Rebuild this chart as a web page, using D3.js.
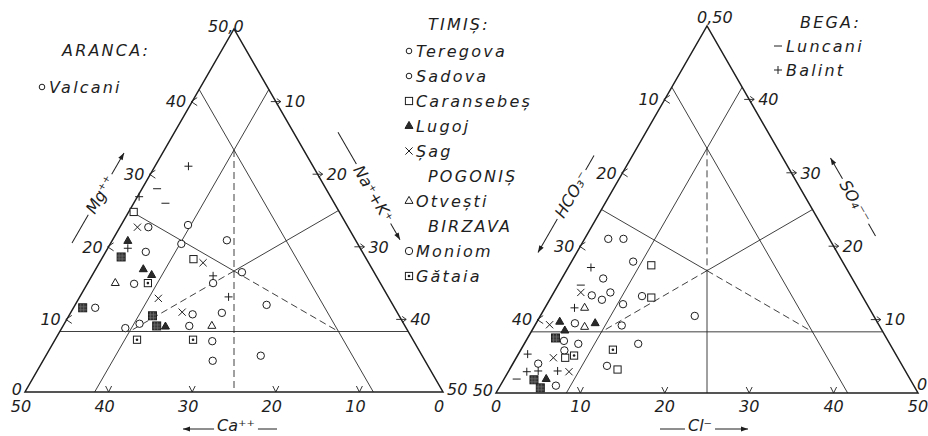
<!DOCTYPE html>
<html>
<head>
<meta charset="utf-8">
<script src="https://cdn.jsdelivr.net/npm/d3@7"></script>
<style>
  html, body { margin: 0; padding: 0; background: #fff; }
  svg { display: block; }
  text { font-family: "DejaVu Sans", sans-serif; font-style: oblique; fill: #1e1e1e; }
</style>
</head>
<body>
<svg id="chart" width="928" height="436"></svg>
<script>
// ---------------------------------------------------------------
// Cation triangle, meq-% with Ca + Mg + (Na+K) = 50.  Points: [Ca, Mg]
// ---------------------------------------------------------------
const catCircles   = [[23.9,22.7],[19.0,23.0],[21.1,20.4],[15.4,20.9],[25.9,19.3],[29.5,14.9],
                      [20.0,15.0],[15.8,16.5],[15.1,12.0],[35.8,11.6],[24.6,10.7],[21.0,10.9],
                      [33.6,8.8],[31.6,9.4],[25.8,9.1],[24.1,7.0],[25.4,4.3],[19.3,5.0]];
const catCaransebes = [[24.6,24.8],[20.7,18.3]];
const catGataia     = [[27.8,15.0],[33.0,7.2],[26.3,7.2]];
const catDark       = [[29.2,18.6],[37.3,11.6],[29.5,10.5],[29.7,9.1]];
const catLugoj      = [[27.3,20.8],[27.4,16.9],[26.8,16.1],[28.7,9.0]];
const catSag        = [[25.2,22.7],[19.8,17.8],[27.6,12.9],[25.7,11.0]];
const catOtvesti    = [[31.7,15.0],[23.1,9.1]];
const catBalint     = [[14.9,31.1],[22.9,26.9],[27.8,19.8],[19.5,16.0],[19.1,13.1]];
const catLuncani    = [[20.2,28.0],[20.2,26.0]];

// ---------------------------------------------------------------
// Anion triangle, meq-% with HCO3 + SO4 + Cl = 50.  Points: [Cl, SO4]
// ---------------------------------------------------------------
const anCircles    = [[2.8,21.0],[4.6,21.0],[7.3,17.9],[4.9,15.6],[4.7,13.3],[6.2,12.7],
                      [6.7,13.7],[9.0,12.1],[10.7,13.2],[18.3,10.5],[4.6,9.5],[10.3,9.2],
                      [4.5,7.1],[6.4,6.7],[13.5,6.7],[5.2,5.8],[3.0,4.0],[11.3,3.7],[6.6,1.0]];
const anCaransebes = [[9.7,17.4],[11.9,13.0],[5.8,4.8],[12.8,3.2]];
const anGataia     = [[10.9,5.9],[6.7,5.1]];
const anDark       = [[3.3,7.5],[3.6,1.8],[4.9,0.7]];
const anLugoj      = [[2.7,9.7],[3.9,8.5],[7.0,9.5],[5.0,1.9]];
const anSag        = [[3.2,13.7],[1.7,9.3],[4.4,4.8],[7.2,2.9]];
const anOtvesti    = [[4.7,11.6],[6.0,9.0]];
const anBalint     = [[2.7,17.1],[3.5,11.6],[1.1,5.3],[2.2,2.9],[3.5,3.0],[5.8,3.0]];
const anLuncani    = [[2.7,14.7],[1.5,1.9]];

// tick labels
const caTicks   = [50, 40, 30, 20, 10, 0];
const mgTicks   = [0, 10, 20, 30, 40];
const naTicks   = [10, 20, 30, 40, 50];
const clTicks   = [0, 10, 20, 30, 40, 50];
const hco3Ticks = [10, 20, 30, 40, 50];
const so4Ticks  = [0, 10, 20, 30, 40];
const gridTicks = [10, 20, 30, 40];

// legend texts
const arancaTitle = "ARANCA:";
const arancaItems = [["circleSmall", "Valcani"]];
const timisTitle  = "TIMIȘ:";
const middleItems = [
  ["circleSmall", "Teregova"], ["circleSmall", "Sadova"], ["square", "Caransebeș"],
  ["triFill", "Lugoj"], ["times", "Șag"], [null, "POGONIȘ"], ["tri", "Otvești"],
  [null, "BIRZAVA"], ["circle", "Moniom"], ["dotSquare", "Gătaia"]
];
const begaTitle = "BEGA:";
const begaItems = [["minus", "Luncani"], ["plus", "Balint"]];

// ---------------------------------------------------------------
const INK = "#1e1e1e";
const svg = d3.select("#chart");
const K = 50 / 6;          // classification boundary (1/6 of the half-sum)
const C3 = 50 / 3;         // centroid share

function marker(g, type, x, y) {
  const st = sel => sel.attr("stroke", INK).attr("stroke-width", 1);
  switch (type) {
    case "circle":
      st(g.append("circle").attr("cx", x).attr("cy", y).attr("r", 3.7).attr("fill", "#fff")); break;
    case "circleSmall":
      st(g.append("circle").attr("cx", x).attr("cy", y).attr("r", 2.8).attr("fill", "#fff")); break;
    case "square":
      st(g.append("rect").attr("x", x - 3.6).attr("y", y - 3.6).attr("width", 7.2).attr("height", 7.2).attr("fill", "#fff")); break;
    case "dotSquare":
      st(g.append("rect").attr("x", x - 3.6).attr("y", y - 3.6).attr("width", 7.2).attr("height", 7.2).attr("fill", "#fff"));
      g.append("circle").attr("cx", x).attr("cy", y).attr("r", 1.3).attr("fill", INK); break;
    case "darkSquare":
      st(g.append("rect").attr("x", x - 4).attr("y", y - 4).attr("width", 8).attr("height", 8).attr("fill", "#3a3a3a"));
      g.append("path").attr("d", `M${x-2},${y-4}V${y+4}M${x+1},${y-4}V${y+4}M${x-4},${y-1}H${x+4}M${x-4},${y+2}H${x+4}`)
        .attr("stroke", "#777").attr("stroke-width", 0.6); break;
    case "triFill":
      st(g.append("path").attr("d", `M${x},${y-4.6}L${x+4},${y+2.4}L${x-4},${y+2.4}Z`).attr("fill", "#2a2a2a")); break;
    case "tri":
      st(g.append("path").attr("d", `M${x},${y-4.6}L${x+4},${y+2.4}L${x-4},${y+2.4}Z`).attr("fill", "#fff")); break;
    case "times":
      st(g.append("path").attr("d", `M${x-3.6},${y-3.6}L${x+3.6},${y+3.6}M${x+3.6},${y-3.6}L${x-3.6},${y+3.6}`).attr("fill", "none")); break;
    case "plus":
      st(g.append("path").attr("d", `M${x-4},${y}H${x+4}M${x},${y-4}V${y+4}`).attr("fill", "none")); break;
    case "minus":
      st(g.append("path").attr("d", `M${x-4},${y}H${x+4}`).attr("fill", "none")); break;
  }
}

// one triangular diagram in barycentric (R = bottom-right share, T = apex share)
function diagram(o) {
  const g = svg.append("g");
  const P = (r, t) => [o.xs(r + t / 2), o.ys(t)];
  const seg = (a, b, dashed, w) => g.append("line")
      .attr("x1", P(...a)[0]).attr("y1", P(...a)[1]).attr("x2", P(...b)[0]).attr("y2", P(...b)[1])
      .attr("stroke", "#2a2a2a").attr("stroke-width", w || 0.9)
      .attr("stroke-dasharray", dashed ? "7 4" : null);

  // classification lines
  seg([0, K], [50 - K, K]);
  seg([K, 0], [K, 50 - K]);
  seg([50 - K, 0], [0, 50 - K]);
  seg([C3, C3], [0, 25]);
  seg([C3, C3], [25, 25]);
  seg([C3, C3], [K, K], true);
  seg([C3, C3], [50 - 2 * K, K], true);
  seg([K, 50 - 2 * K], [C3, C3], true);
  seg([C3, C3], [25, 0], o.lowerDashed);

  // frame
  g.append("path")
    .attr("d", d3.line()([P(0, 0), P(50, 0), P(0, 50)]) + "Z")
    .attr("fill", "none").attr("stroke", INK).attr("stroke-width", 1.5);

  // edge arrow marks
  const tk = g.append("g").attr("fill", "none").attr("stroke", INK).attr("stroke-width", 0.9);
  gridTicks.forEach(v => {
    let [x, y] = o.bottomPos(v, P);
    tk.append("path").attr("d", `M${x-3},${y-6}L${x},${y}L${x+3},${y-6}`);
    [x, y] = o.leftPos(v, P);
    tk.append("path").attr("d", `M${x+5},${y-4}L${x-1},${y}L${x+5},${y+4}`);
    [x, y] = o.rightPos(v, P);
    tk.append("path").attr("d", `M${x-5},${y}H${x+5}M${x+1},${y-3}L${x+5},${y}L${x+1},${y+3}`);
  });

  // tick labels
  const lab = g.append("g").attr("font-size", 16);
  o.bottomTicks.forEach(v => {
    const [x] = o.bottomPos(v, P);
    lab.append("text").attr("x", x + o.bottomShift).attr("y", 412).attr("text-anchor", "middle").text(v);
  });
  o.leftTicks.forEach(v => {
    const [x, y] = o.leftPos(v, P);
    const vert = y > o.ys(1);
    lab.append("text").attr("x", x - (vert ? 3 : 6)).attr("y", y - (vert ? 3 : 0)).attr("dy", "0.36em")
      .attr("text-anchor", "end").text(v);
  });
  o.rightTicks.forEach(v => {
    const [x, y] = o.rightPos(v, P);
    const vert = y > o.ys(1);
    lab.append("text").attr("x", x + (vert ? o.cornerDx : 9)).attr("y", y - (vert ? o.cornerDy : 0)).attr("dy", "0.36em")
      .attr("text-anchor", "start").text(v);
  });
  const [ax, ay] = P(0, 50);
  lab.append("text").attr("x", ax + o.apexDx).attr("y", ay + o.apexDy).text(o.apexLabel);

  // samples
  const pts = g.append("g");
  o.series.forEach(([rows, type]) => rows.forEach(d => {
    const [r, t] = o.toRT(d);
    const [x, y] = P(r, t);
    marker(pts, type, x, y);
  }));
}

diagram({
  xs: d3.scaleLinear().domain([0, 50]).range([25, 443]),
  ys: d3.scaleLinear().domain([0, 50]).range([392, 29]),
  toRT: ([ca, mg]) => [50 - ca - mg, mg],
  bottomPos: (ca, P) => P(50 - ca, 0),
  leftPos: (mg, P) => P(0, mg),
  rightPos: (na, P) => P(na, 50 - na),
  bottomTicks: caTicks, leftTicks: mgTicks, rightTicks: naTicks,
  bottomShift: -4, cornerDx: 4, cornerDy: 3,
  apexLabel: "50,0", apexDx: -26, apexDy: 3,
  lowerDashed: true,
  series: [[catCircles, "circle"], [catCaransebes, "square"], [catGataia, "dotSquare"],
           [catDark, "darkSquare"], [catLugoj, "triFill"], [catSag, "times"],
           [catOtvesti, "tri"], [catBalint, "plus"], [catLuncani, "minus"]]
});

diagram({
  xs: d3.scaleLinear().domain([0, 50]).range([496, 918]),
  ys: d3.scaleLinear().domain([0, 50]).range([393, 26]),
  toRT: ([cl, so4]) => [cl, so4],
  bottomPos: (cl, P) => P(cl, 0),
  leftPos: (hco3, P) => P(0, 50 - hco3),
  rightPos: (so4, P) => P(50 - so4, so4),
  bottomTicks: clTicks, leftTicks: hco3Ticks, rightTicks: so4Ticks,
  bottomShift: 0, cornerDx: -1, cornerDy: 9,
  apexLabel: "0,50", apexDx: -10, apexDy: -3,
  lowerDashed: false,
  series: [[anCircles, "circle"], [anCaransebes, "square"], [anGataia, "dotSquare"],
           [anDark, "darkSquare"], [anLugoj, "triFill"], [anSag, "times"],
           [anOtvesti, "tri"], [anBalint, "plus"], [anLuncani, "minus"]]
});

// ---------------------------------------------------------------
// axis titles: a text on a reading line with a direction arrow
// ---------------------------------------------------------------
function axisTitle(t) {
  const g = svg.append("g").attr("transform", `translate(${t.cx},${t.cy}) rotate(${t.angle})`);
  const txt = g.append("text").attr("x", t.offset).attr("y", t.textDy).attr("dy", "0.36em")
    .attr("text-anchor", "middle").attr("font-size", 16).text(t.label);
  const w = txt.node().getComputedTextLength();
  const a = t.offset - w / 2 - 3, b = t.offset + w / 2 + 3;
  const ln = g.append("g").attr("stroke", INK).attr("stroke-width", 1);
  ln.append("line").attr("x1", -t.half).attr("x2", a).attr("y1", t.lineY).attr("y2", t.lineY);
  ln.append("line").attr("x1", b).attr("x2", t.half).attr("y1", t.lineY).attr("y2", t.lineY);
  const e = t.arrowEnd ? t.half : -t.half, s = t.arrowEnd ? -1 : 1;
  g.append("path").attr("d", `M${e},${t.lineY}L${e + s * 7},${t.lineY - 2.5}L${e + s * 7},${t.lineY + 2.5}Z`)
    .attr("fill", INK);
}

axisTitle({ cx: 98,  cy: 198, angle: -60, half: 52, label: "Mg⁺⁺",   offset: 4,    textDy: 0,  lineY: 0, arrowEnd: true });
axisTitle({ cx: 369, cy: 186, angle: 60,  half: 62, label: "Na⁺+K⁺", offset: 9,    textDy: 0,  lineY: 0, arrowEnd: true });
axisTitle({ cx: 230, cy: 429, angle: 0,   half: 47, label: "Ca⁺⁺",   offset: 6,    textDy: -4, lineY: 0, arrowEnd: false });
axisTitle({ cx: 566, cy: 204, angle: -60, half: 56, label: "HCO₃⁻",  offset: 11,   textDy: 0,  lineY: 0, arrowEnd: false });
axisTitle({ cx: 853, cy: 197, angle: 60,  half: 45, label: "SO₄⁻⁻",  offset: 5,    textDy: 0,  lineY: 0, arrowEnd: false });
axisTitle({ cx: 704, cy: 429, angle: 0,   half: 44, label: "Cl⁻",    offset: -4,   textDy: -4, lineY: 0, arrowEnd: true });

// ---------------------------------------------------------------
// legends
// ---------------------------------------------------------------
const leg = svg.append("g").attr("font-size", 16).attr("letter-spacing", 2.2);

leg.append("text").attr("x", 62).attr("y", 50).attr("dy", "0.36em").text(arancaTitle);
arancaItems.forEach(([m, name], i) => {
  const y = 87 + i * 25;
  marker(leg, m, 42, y);
  leg.append("text").attr("x", 49).attr("y", y).attr("dy", "0.36em").text(name);
});

leg.append("text").attr("x", 428).attr("y", 24).attr("dy", "0.36em").text(timisTitle);
middleItems.forEach(([m, name], i) => {
  const y = 51 + i * 25;
  if (m) {
    marker(leg, m, 409, y);
    leg.append("text").attr("x", 416).attr("y", y).attr("dy", "0.36em").text(name);
  } else {
    leg.append("text").attr("x", 428).attr("y", y).attr("dy", "0.36em").text(name);
  }
});

leg.append("text").attr("x", 800).attr("y", 22).attr("dy", "0.36em").text(begaTitle);
begaItems.forEach(([m, name], i) => {
  const y = 46 + i * 24;
  marker(leg, m, 778, y);
  leg.append("text").attr("x", 786).attr("y", y).attr("dy", "0.36em").text(name);
});
</script>
</body>
</html>
